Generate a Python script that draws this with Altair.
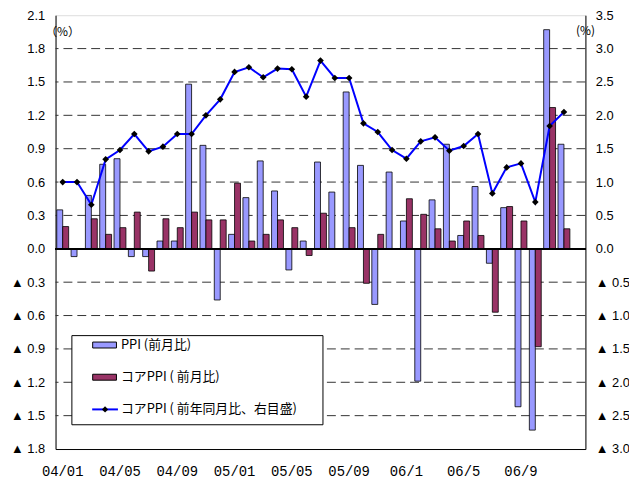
import altair as alt
import pandas as pd

# ---- data ----
months = [
    "04/01", "04/02", "04/03", "04/04", "04/05", "04/06", "04/07", "04/08", "04/09", "04/10", "04/11", "04/12",
    "05/01", "05/02", "05/03", "05/04", "05/05", "05/06", "05/07", "05/08", "05/09", "05/10", "05/11", "05/12",
    "06/01", "06/02", "06/03", "06/04", "06/05", "06/06", "06/07", "06/08", "06/09", "06/10", "06/11", "06/12",
]
x_domain = months + ["07/01"]
tick_months = ["04/01", "04/05", "04/09", "05/01", "05/05", "05/09", "06/01", "06/05", "06/09"]
tick_labels = ["04/01", "04/05", "04/09", "05/01", "05/05", "05/09", "06/1", "06/5", "06/9"]

ppi_mom = [0.35, -0.07, 0.48, 0.76, 0.81, -0.07, -0.07, 0.07, 0.07, 1.48, 0.93, -0.46,
           0.13, 0.46, 0.79, 0.52, -0.19, 0.07, 0.78, 0.51, 1.41, 0.75, -0.50, 0.69,
           0.25, -1.19, 0.44, 0.94, 0.12, 0.56, -0.13, 0.37, -1.42, -1.63, 1.97, 0.94]
core_mom = [0.20, 0.0, 0.27, 0.13, 0.19, 0.33, -0.20, 0.27, 0.19, 0.33, 0.26, 0.26,
            0.59, 0.07, 0.13, 0.26, 0.19, -0.06, 0.32, 0.0, 0.19, -0.31, 0.13, 0.0,
            0.45, 0.31, 0.18, 0.07, 0.25, 0.12, -0.57, 0.38, 0.25, -0.88, 1.27, 0.18]
core_yoy = [1.00, 1.00, 0.66, 1.34, 1.48, 1.72, 1.46, 1.53, 1.72, 1.72, 2.00, 2.24,
            2.65, 2.72, 2.57, 2.70, 2.69, 2.28, 2.82, 2.56, 2.56, 1.88, 1.75, 1.48,
            1.35, 1.61, 1.67, 1.47, 1.54, 1.72, 0.83, 1.22, 1.28, 0.70, 1.84, 2.05]

series_names = ["PPI (前月比)", "コアPPI ( 前月比)", "コアPPI ( 前年同月比、右目盛)"]
series_colors = ["#9999FF", "#993366", "#0000FF"]

left_ticks = [2.1, 1.8, 1.5, 1.2, 0.9, 0.6, 0.3, 0.0, -0.3, -0.6, -0.9, -1.2, -1.5, -1.8]
right_ticks = [3.5, 3.0, 2.5, 2.0, 1.5, 1.0, 0.5, 0.0, -0.5, -1.0, -1.5, -2.0, -2.5, -3.0]

# ---- tables ----
bars_df = pd.DataFrame({
    "month": months * 2,
    "series": [series_names[0]] * len(months) + [series_names[1]] * len(months),
    "value": ppi_mom + core_mom,
})
line_df = pd.DataFrame({"month": months, "series": series_names[2], "value": core_yoy})
grid_df = pd.DataFrame({"value": [v for v in left_ticks if abs(v) > 0.01 and -1.75 < v < 2.05]})

num_font = "Liberation Sans"
jp_font = "Noto Sans CJK JP"

def js_list(items):
    return "[" + ",".join("'" + s + "'" for s in items) + "]"

x_label_expr = f"{js_list(tick_labels)}[indexof({js_list(tick_months)}, datum.value)]"
neg_label_expr = "datum.value < -0.001 ? '▲ ' + format(-datum.value, '.1f') : format(datum.value, '.1f')"

x_enc = alt.X(
    "month:N",
    sort=x_domain,
    scale=alt.Scale(domain=x_domain, paddingInner=0.17, paddingOuter=0.085),
    axis=alt.Axis(values=tick_months, labelExpr=x_label_expr, labelAngle=0, ticks=False,
                  domain=True, domainColor="black", labelPadding=16, labelFont="Liberation Mono",
                  labelFontSize=14, labelColor="black", title=None, grid=False),
)

color_scale = alt.Scale(domain=series_names, range=series_colors)

left_y_axis = alt.Axis(
    values=left_ticks, labelExpr=neg_label_expr, grid=False,
    domain=True, domainColor="black", ticks=False, labelPadding=11, labelFont=num_font,
    labelFontSize=13, labelColor="black", labelOverlap=False, labelBound=False,
    title="（%）", titleAngle=0, titleX=-11, titleY=16,
    titleAlign="left", titleBaseline="middle", titleFont=jp_font, titleFontSize=12,
    titleFontWeight="normal", titleColor="black",
)
right_y_axis = alt.Axis(
    orient="right", values=right_ticks, labelExpr=neg_label_expr, grid=False,
    domain=True, domainColor="black", ticks=False, labelPadding=10, labelFont=num_font,
    labelFontSize=13, labelColor="black", labelOverlap=False, labelBound=False,
    title="(%)", titleAngle=0, titleX=-10, titleY=15,
    titleAlign="left", titleBaseline="middle", titleFont=jp_font, titleFontSize=12,
    titleFontWeight="normal", titleColor="black",
)

left_scale = alt.Scale(domain=[-1.8, 2.1], nice=False, zero=False)

grid = alt.Chart(grid_df).mark_rule(color="#333", strokeWidth=1, strokeDash=[9, 5]).encode(
    y=alt.Y("value:Q", scale=left_scale, axis=left_y_axis),
)
zero_line = alt.Chart(bars_df).mark_rule(color="black", strokeWidth=1).encode(
    y=alt.YDatum(0, scale=left_scale, axis=left_y_axis),
)
bars = alt.Chart(bars_df).mark_bar(stroke="black", strokeWidth=0.8).encode(
    x=x_enc,
    xOffset=alt.XOffset("series:N", scale=alt.Scale(domain=series_names[:2], paddingInner=0, paddingOuter=0)),
    y=alt.Y("value:Q", scale=left_scale, axis=left_y_axis),
    color=alt.Color("series:N", scale=color_scale, legend=None),
)
left = alt.layer(grid, bars, zero_line)

right_scale = alt.Scale(domain=[-3.0, 3.5], nice=False, zero=False)
line = alt.Chart(line_df).mark_line(strokeWidth=2).encode(
    x=x_enc,
    y=alt.Y("value:Q", scale=right_scale, axis=right_y_axis),
    color=alt.Color("series:N", scale=color_scale, legend=None),
)
points = alt.Chart(line_df).mark_point(shape="diamond", filled=True, color="black", size=45, opacity=1).encode(
    x=x_enc,
    y=alt.Y("value:Q", scale=right_scale, axis=right_y_axis),
)
right = alt.layer(line, points)

# ---- hand-built legend box (pixel layout relative to the plot area) ----
legend_layers = []
legend_layers.append(
    alt.Chart(pd.DataFrame({"k": [0]})).mark_rect(fill="white", stroke="black", strokeWidth=1).encode(
        x=alt.value(16.5), x2=alt.value(270), y=alt.value(323.5), y2=alt.value(413.5)
    )
)
for i, name in enumerate(series_names):
    yc = 333 + i * 32.5
    one = pd.DataFrame({"series": [name]})
    if i < 2:
        legend_layers.append(
            alt.Chart(one).mark_rect(fill=series_colors[i], stroke="black", strokeWidth=1).encode(
                x=alt.value(37.5), x2=alt.value(61.5), y=alt.value(yc - 3), y2=alt.value(yc + 3)
            )
        )
    else:
        legend_layers.append(
            alt.Chart(one).mark_rule(color=series_colors[2], strokeWidth=2).encode(
                x=alt.value(37), x2=alt.value(63), y=alt.value(yc)
            )
        )
        legend_layers.append(
            alt.Chart(one).mark_point(shape="diamond", filled=True, color="black", size=40, opacity=1).encode(
                x=alt.value(50), y=alt.value(yc)
            )
        )
    legend_layers.append(
        alt.Chart(one).mark_text(align="left", baseline="middle", font=jp_font, fontSize=13, color="black").encode(
            x=alt.value(66), y=alt.value(yc), text="series:N"
        )
    )

chart = alt.layer(left, right, *legend_layers).resolve_scale(y="independent").properties(
    width=535, height=438, autosize="none",
    padding={"left": 48, "top": 5, "right": 44, "bottom": 30},
).configure_view(stroke="#888", strokeWidth=1).configure(background="white")

chart.save("out.html", embed_options={"renderer": "svg", "actions": False})
